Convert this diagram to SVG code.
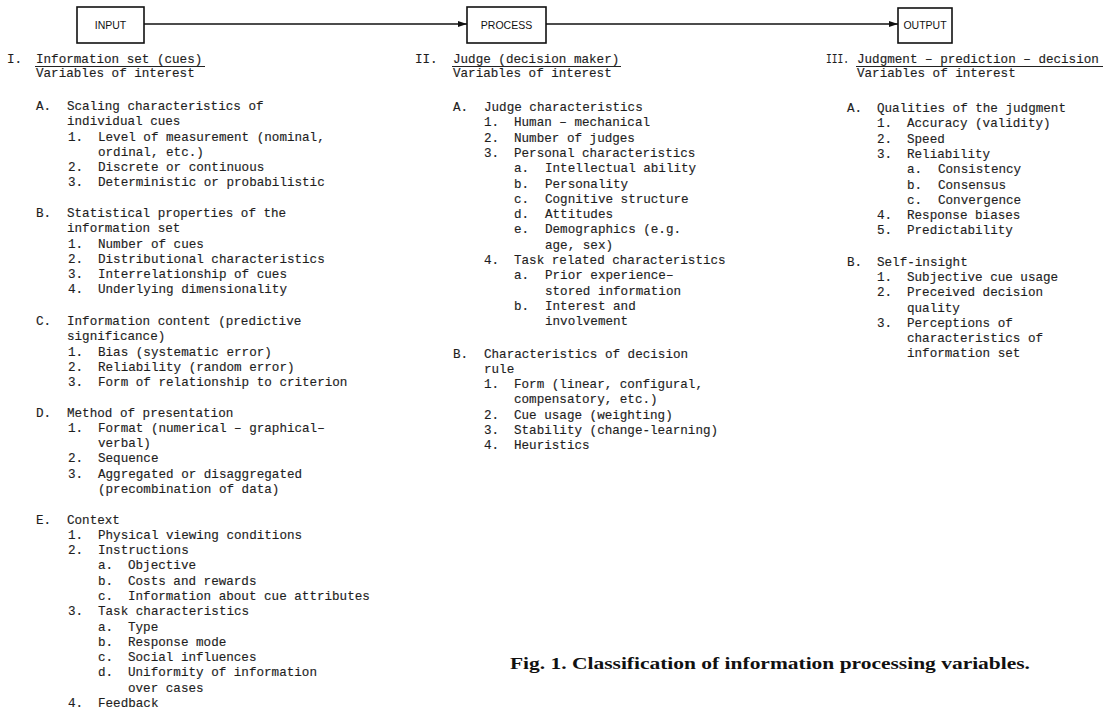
<svg xmlns="http://www.w3.org/2000/svg" width="1107" height="710" viewBox="0 0 1107 710">
<style>
.t{font-family:"Liberation Mono","DejaVu Sans Mono",monospace;font-size:12.6px;fill:#1e1e1e;stroke:#1e1e1e;stroke-width:0.15}
.bx{fill:#fff;stroke:#111;stroke-width:1.6}
.bt{font-family:"Liberation Sans",Arial,sans-serif;font-size:10.5px;fill:#111;text-anchor:middle}
.ln{stroke:#111;stroke-width:1.4;fill:none}
.ul{stroke:#222;stroke-width:1}
.cap{font-family:"Liberation Serif","Times New Roman",serif;font-weight:bold;font-size:17px;fill:#111}
</style>
<defs>
<marker id="ah" markerWidth="9" markerHeight="6" refX="9" refY="3" orient="auto" markerUnits="userSpaceOnUse">
<path d="M0,0 L9,3 L0,6 Z" fill="#111"/>
</marker>
</defs>
<rect width="1107" height="710" fill="#fff"/>
<g id="connectors">
<line class="ln" x1="144" y1="24" x2="467" y2="24" marker-end="url(#ah)"/>
<line class="ln" x1="546" y1="24" x2="898" y2="24" marker-end="url(#ah)"/>
</g>
<g id="input">
<rect class="bx" x="77" y="7" width="67" height="36"/>
<text class="bt" x="110.5" y="28.5">INPUT</text>
</g>
<g id="process">
<rect class="bx" x="467" y="7" width="79" height="36"/>
<text class="bt" x="506.5" y="28.5">PROCESS</text>
</g>
<g id="output">
<rect class="bx" x="898" y="8" width="54" height="35"/>
<text class="bt" x="925" y="29">OUTPUT</text>
</g>
<g id="col-input" class="t">
<text y="63"><tspan x="7">I.</tspan><tspan x="36">Information set (cues)</tspan></text>
<line class="ul" x1="35" y1="66.5" x2="205" y2="66.5"/>
<text y="77" x="36">Variables of interest</text>
<text y="110"><tspan x="36">A.</tspan><tspan x="67">Scaling characteristics of</tspan></text>
<text y="125.3" x="67">individual cues</text>
<text y="140.6"><tspan x="68">1.</tspan><tspan x="98">Level of measurement (nominal,</tspan></text>
<text y="155.8" x="98">ordinal, etc.)</text>
<text y="171.1"><tspan x="68">2.</tspan><tspan x="98">Discrete or continuous</tspan></text>
<text y="186.4"><tspan x="68">3.</tspan><tspan x="98">Deterministic or probabilistic</tspan></text>
<text y="217"><tspan x="36">B.</tspan><tspan x="67">Statistical properties of the</tspan></text>
<text y="232.2" x="67">information set</text>
<text y="247.5"><tspan x="68">1.</tspan><tspan x="98">Number of cues</tspan></text>
<text y="262.8"><tspan x="68">2.</tspan><tspan x="98">Distributional characteristics</tspan></text>
<text y="278.1"><tspan x="68">3.</tspan><tspan x="98">Interrelationship of cues</tspan></text>
<text y="293.4"><tspan x="68">4.</tspan><tspan x="98">Underlying dimensionality</tspan></text>
<text y="325"><tspan x="36">C.</tspan><tspan x="67">Information content (predictive</tspan></text>
<text y="340.2" x="67">significance)</text>
<text y="355.5"><tspan x="68">1.</tspan><tspan x="98">Bias (systematic error)</tspan></text>
<text y="370.8"><tspan x="68">2.</tspan><tspan x="98">Reliability (random error)</tspan></text>
<text y="386.1"><tspan x="68">3.</tspan><tspan x="98">Form of relationship to criterion</tspan></text>
<text y="416.6"><tspan x="36">D.</tspan><tspan x="67">Method of presentation</tspan></text>
<text y="431.9"><tspan x="68">1.</tspan><tspan x="98">Format (numerical – graphical–</tspan></text>
<text y="447.2" x="98">verbal)</text>
<text y="462.4"><tspan x="68">2.</tspan><tspan x="98">Sequence</tspan></text>
<text y="477.7"><tspan x="68">3.</tspan><tspan x="98">Aggregated or disaggregated</tspan></text>
<text y="493" x="98">(precombination of data)</text>
<text y="523.6"><tspan x="36">E.</tspan><tspan x="67">Context</tspan></text>
<text y="538.8"><tspan x="68">1.</tspan><tspan x="98">Physical viewing conditions</tspan></text>
<text y="554.1"><tspan x="68">2.</tspan><tspan x="98">Instructions</tspan></text>
<text y="569.4"><tspan x="98">a.</tspan><tspan x="128">Objective</tspan></text>
<text y="584.7"><tspan x="98">b.</tspan><tspan x="128">Costs and rewards</tspan></text>
<text y="600"><tspan x="98">c.</tspan><tspan x="128">Information about cue attributes</tspan></text>
<text y="615.2"><tspan x="68">3.</tspan><tspan x="98">Task characteristics</tspan></text>
<text y="630.5"><tspan x="98">a.</tspan><tspan x="128">Type</tspan></text>
<text y="645.8"><tspan x="98">b.</tspan><tspan x="128">Response mode</tspan></text>
<text y="661.1"><tspan x="98">c.</tspan><tspan x="128">Social influences</tspan></text>
<text y="676.4"><tspan x="98">d.</tspan><tspan x="128">Uniformity of information</tspan></text>
<text y="691.6" x="128">over cases</text>
<text y="706.9"><tspan x="68">4.</tspan><tspan x="98">Feedback</tspan></text>
</g>
<g id="col-process" class="t">
<text y="63"><tspan x="415">II.</tspan><tspan x="453">Judge (decision maker)</tspan></text>
<line class="ul" x1="452" y1="66.5" x2="621" y2="66.5"/>
<text y="77" x="453">Variables of interest</text>
<text y="111"><tspan x="453">A.</tspan><tspan x="484">Judge characteristics</tspan></text>
<text y="126.3"><tspan x="484">1.</tspan><tspan x="514">Human – mechanical</tspan></text>
<text y="141.6"><tspan x="484">2.</tspan><tspan x="514">Number of judges</tspan></text>
<text y="156.9"><tspan x="484">3.</tspan><tspan x="514">Personal characteristics</tspan></text>
<text y="172.2"><tspan x="514">a.</tspan><tspan x="545">Intellectual ability</tspan></text>
<text y="187.5"><tspan x="514">b.</tspan><tspan x="545">Personality</tspan></text>
<text y="202.8"><tspan x="514">c.</tspan><tspan x="545">Cognitive structure</tspan></text>
<text y="218.1"><tspan x="514">d.</tspan><tspan x="545">Attitudes</tspan></text>
<text y="233.4"><tspan x="514">e.</tspan><tspan x="545">Demographics (e.g.</tspan></text>
<text y="248.7" x="545">age, sex)</text>
<text y="264"><tspan x="484">4.</tspan><tspan x="514">Task related characteristics</tspan></text>
<text y="279.3"><tspan x="514">a.</tspan><tspan x="545">Prior experience–</tspan></text>
<text y="294.6" x="545">stored information</text>
<text y="309.9"><tspan x="514">b.</tspan><tspan x="545">Interest and</tspan></text>
<text y="325.2" x="545">involvement</text>
<text y="357.5"><tspan x="453">B.</tspan><tspan x="484">Characteristics of decision</tspan></text>
<text y="372.8" x="484">rule</text>
<text y="388.1"><tspan x="484">1.</tspan><tspan x="514">Form (linear, configural,</tspan></text>
<text y="403.4" x="514">compensatory, etc.)</text>
<text y="418.7"><tspan x="484">2.</tspan><tspan x="514">Cue usage (weighting)</tspan></text>
<text y="434"><tspan x="484">3.</tspan><tspan x="514">Stability (change-learning)</tspan></text>
<text y="449.3"><tspan x="484">4.</tspan><tspan x="514">Heuristics</tspan></text>
</g>
<g id="col-output" class="t">
<text y="63"><tspan x="826" textLength="23" lengthAdjust="spacingAndGlyphs">III.</tspan><tspan x="857">Judgment – prediction – decision</tspan></text>
<line class="ul" x1="856" y1="66.5" x2="1103" y2="66.5"/>
<text y="77" x="857">Variables of interest</text>
<text y="112"><tspan x="847">A.</tspan><tspan x="877">Qualities of the judgment</tspan></text>
<text y="127.3"><tspan x="877">1.</tspan><tspan x="907">Accuracy (validity)</tspan></text>
<text y="142.6"><tspan x="877">2.</tspan><tspan x="907">Speed</tspan></text>
<text y="157.9"><tspan x="877">3.</tspan><tspan x="907">Reliability</tspan></text>
<text y="173.2"><tspan x="907">a.</tspan><tspan x="938">Consistency</tspan></text>
<text y="188.5"><tspan x="907">b.</tspan><tspan x="938">Consensus</tspan></text>
<text y="203.8"><tspan x="907">c.</tspan><tspan x="938">Convergence</tspan></text>
<text y="219.1"><tspan x="877">4.</tspan><tspan x="907">Response biases</tspan></text>
<text y="234.4"><tspan x="877">5.</tspan><tspan x="907">Predictability</tspan></text>
<text y="265.6"><tspan x="847">B.</tspan><tspan x="877">Self-insight</tspan></text>
<text y="280.9"><tspan x="877">1.</tspan><tspan x="907">Subjective cue usage</tspan></text>
<text y="296.2"><tspan x="877">2.</tspan><tspan x="907">Preceived decision</tspan></text>
<text y="311.5" x="907">quality</text>
<text y="326.8"><tspan x="877">3.</tspan><tspan x="907">Perceptions of</tspan></text>
<text y="342.1" x="907">characteristics of</text>
<text y="357.4" x="907">information set</text>
</g>
<g id="caption">
<text class="cap" x="510" y="669" textLength="520" lengthAdjust="spacingAndGlyphs">Fig. 1. Classification of information processing variables.</text>
</g>
</svg>
